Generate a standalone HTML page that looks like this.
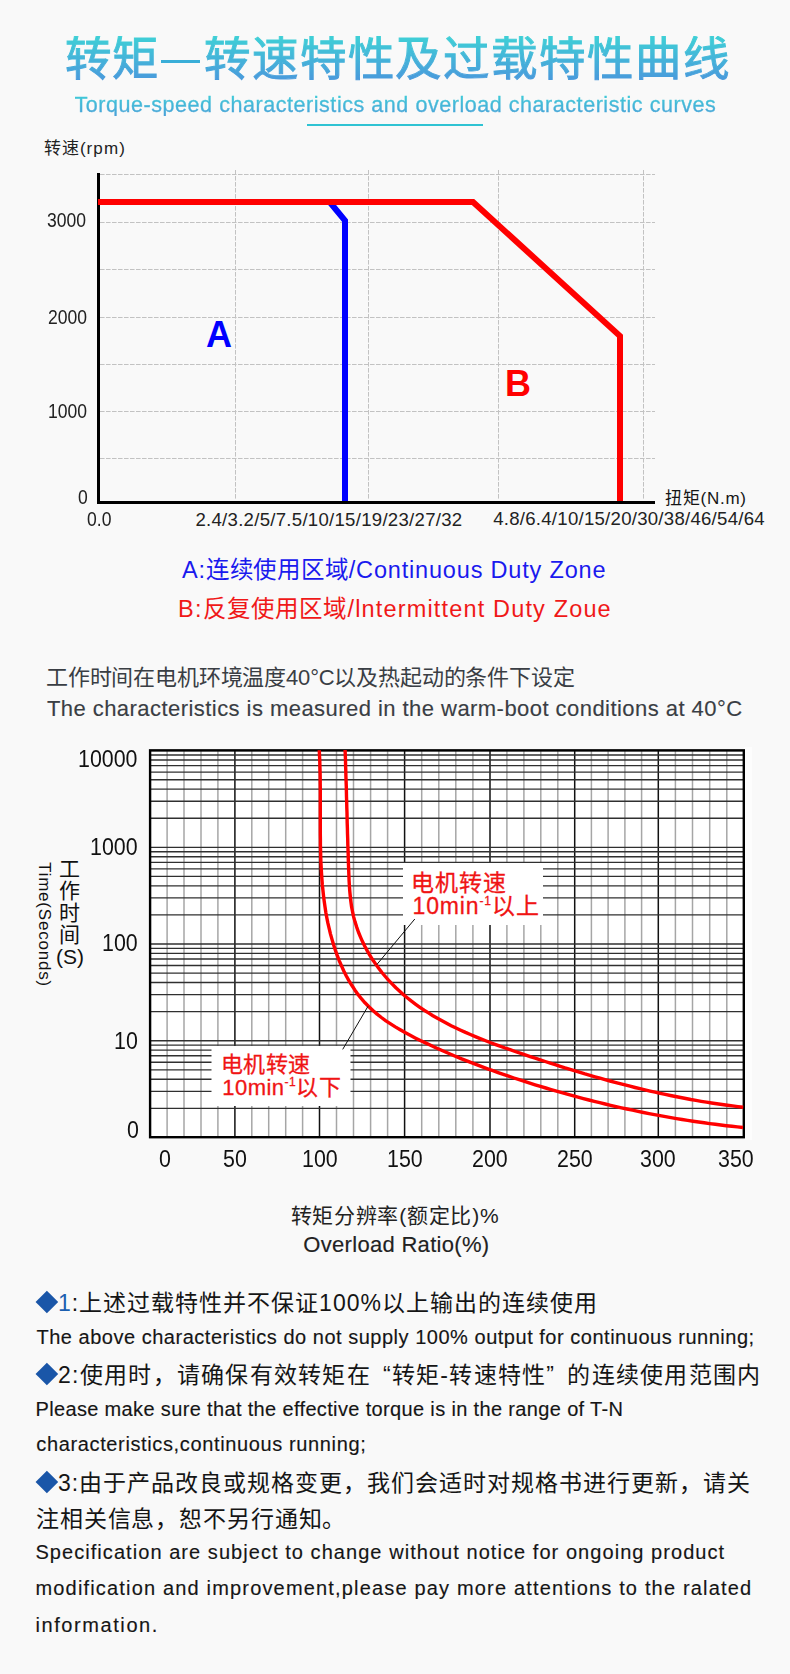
<!DOCTYPE html>
<html lang="zh-CN"><head><meta charset="utf-8"><title>转矩—转速特性及过载特性曲线</title>
<style>
html,body{margin:0;padding:0;}
body{width:790px;height:1674px;background:#f9f9f9;position:relative;overflow:hidden;font-family:"Liberation Sans",sans-serif;color:#222;}
.t{position:absolute;white-space:nowrap;line-height:1;}
svg{position:absolute;left:0;top:0;}
.dm{display:inline-block;width:15.8px;height:15.8px;background:#1a56a8;transform:rotate(45deg);margin:0 3.3px 0 3.3px;vertical-align:1px}
</style></head><body>

<div class="t" id="title" style="left:64.5px;top:36px;font-size:46.5px;letter-spacing:1.86px;background:linear-gradient(180deg,#3fd0d6 0%,#4a96dc 100%);-webkit-background-clip:text;background-clip:text;color:transparent;-webkit-text-stroke:1px transparent">转矩<span style="display:inline-block;width:43.7px">&nbsp;</span>转速特性及过载特性曲线</div>
<div style="position:absolute;left:161px;top:59.5px;width:39px;height:3.7px;background:#3aaed8"></div>
<div style="position:absolute;left:307px;top:124px;width:176px;height:2px;background:#2fc3d3"></div>
<svg width="790" height="560" viewBox="0 0 790 560">
<line x1="100" y1="174.5" x2="655" y2="174.5" stroke="#c2c2c2" stroke-width="1" stroke-dasharray="4.6 1.4"/>
<line x1="100" y1="222.5" x2="655" y2="222.5" stroke="#c2c2c2" stroke-width="1" stroke-dasharray="4.6 1.4"/>
<line x1="100" y1="269.5" x2="655" y2="269.5" stroke="#c2c2c2" stroke-width="1" stroke-dasharray="4.6 1.4"/>
<line x1="100" y1="317.5" x2="655" y2="317.5" stroke="#c2c2c2" stroke-width="1" stroke-dasharray="4.6 1.4"/>
<line x1="100" y1="364.5" x2="655" y2="364.5" stroke="#c2c2c2" stroke-width="1" stroke-dasharray="4.6 1.4"/>
<line x1="100" y1="411.5" x2="655" y2="411.5" stroke="#c2c2c2" stroke-width="1" stroke-dasharray="4.6 1.4"/>
<line x1="100" y1="458.5" x2="655" y2="458.5" stroke="#c2c2c2" stroke-width="1" stroke-dasharray="4.6 1.4"/>
<line x1="235.5" y1="170" x2="235.5" y2="500" stroke="#c2c2c2" stroke-width="1" stroke-dasharray="4.6 1.4"/>
<line x1="368.5" y1="170" x2="368.5" y2="500" stroke="#c2c2c2" stroke-width="1" stroke-dasharray="4.6 1.4"/>
<line x1="498.5" y1="170" x2="498.5" y2="500" stroke="#c2c2c2" stroke-width="1" stroke-dasharray="4.6 1.4"/>
<line x1="643.5" y1="170" x2="643.5" y2="500" stroke="#c2c2c2" stroke-width="1" stroke-dasharray="4.6 1.4"/>
<line x1="98.5" y1="173" x2="98.5" y2="503.9" stroke="#000" stroke-width="3"/>
<line x1="97" y1="502.4" x2="655" y2="502.4" stroke="#000" stroke-width="3"/>
<polyline points="330.5,203 345,220.5 345,501" fill="none" stroke="#0000ff" stroke-width="6" stroke-linejoin="miter"/>
<polyline points="98,202 473,202 620,336 620,501" fill="none" stroke="#ff0000" stroke-width="6" stroke-linejoin="miter"/>
</svg>
<svg width="790" height="1674" viewBox="0 0 790 1674">
<rect x="150" y="749" width="594" height="389" fill="#fff"/><rect x="744" y="747" width="8" height="393" fill="#fdfdfd"/>
<line x1="167.1" y1="750" x2="167.1" y2="1137" stroke="#a6a6a6" stroke-width="1.5"/>
<line x1="184.0" y1="750" x2="184.0" y2="1137" stroke="#a6a6a6" stroke-width="1.5"/>
<line x1="201.0" y1="750" x2="201.0" y2="1137" stroke="#a6a6a6" stroke-width="1.5"/>
<line x1="217.9" y1="750" x2="217.9" y2="1137" stroke="#a6a6a6" stroke-width="1.5"/>
<line x1="234.9" y1="750" x2="234.9" y2="1137" stroke="#111" stroke-width="1.5"/>
<line x1="251.8" y1="750" x2="251.8" y2="1137" stroke="#a6a6a6" stroke-width="1.5"/>
<line x1="268.7" y1="750" x2="268.7" y2="1137" stroke="#a6a6a6" stroke-width="1.5"/>
<line x1="285.7" y1="750" x2="285.7" y2="1137" stroke="#a6a6a6" stroke-width="1.5"/>
<line x1="302.6" y1="750" x2="302.6" y2="1137" stroke="#a6a6a6" stroke-width="1.5"/>
<line x1="319.5" y1="750" x2="319.5" y2="1137" stroke="#111" stroke-width="1.5"/>
<line x1="336.5" y1="750" x2="336.5" y2="1137" stroke="#a6a6a6" stroke-width="1.5"/>
<line x1="353.5" y1="750" x2="353.5" y2="1137" stroke="#a6a6a6" stroke-width="1.5"/>
<line x1="370.6" y1="750" x2="370.6" y2="1137" stroke="#a6a6a6" stroke-width="1.5"/>
<line x1="387.6" y1="750" x2="387.6" y2="1137" stroke="#a6a6a6" stroke-width="1.5"/>
<line x1="404.6" y1="750" x2="404.6" y2="1137" stroke="#111" stroke-width="1.5"/>
<line x1="421.7" y1="750" x2="421.7" y2="1137" stroke="#a6a6a6" stroke-width="1.5"/>
<line x1="438.8" y1="750" x2="438.8" y2="1137" stroke="#a6a6a6" stroke-width="1.5"/>
<line x1="455.8" y1="750" x2="455.8" y2="1137" stroke="#a6a6a6" stroke-width="1.5"/>
<line x1="472.9" y1="750" x2="472.9" y2="1137" stroke="#a6a6a6" stroke-width="1.5"/>
<line x1="490.0" y1="750" x2="490.0" y2="1137" stroke="#111" stroke-width="1.5"/>
<line x1="506.9" y1="750" x2="506.9" y2="1137" stroke="#a6a6a6" stroke-width="1.5"/>
<line x1="523.9" y1="750" x2="523.9" y2="1137" stroke="#a6a6a6" stroke-width="1.5"/>
<line x1="540.8" y1="750" x2="540.8" y2="1137" stroke="#a6a6a6" stroke-width="1.5"/>
<line x1="557.8" y1="750" x2="557.8" y2="1137" stroke="#a6a6a6" stroke-width="1.5"/>
<line x1="574.7" y1="750" x2="574.7" y2="1137" stroke="#111" stroke-width="1.5"/>
<line x1="591.4" y1="750" x2="591.4" y2="1137" stroke="#a6a6a6" stroke-width="1.5"/>
<line x1="608.1" y1="750" x2="608.1" y2="1137" stroke="#a6a6a6" stroke-width="1.5"/>
<line x1="624.9" y1="750" x2="624.9" y2="1137" stroke="#a6a6a6" stroke-width="1.5"/>
<line x1="641.6" y1="750" x2="641.6" y2="1137" stroke="#a6a6a6" stroke-width="1.5"/>
<line x1="658.3" y1="750" x2="658.3" y2="1137" stroke="#111" stroke-width="1.5"/>
<line x1="675.4" y1="750" x2="675.4" y2="1137" stroke="#a6a6a6" stroke-width="1.5"/>
<line x1="692.5" y1="750" x2="692.5" y2="1137" stroke="#a6a6a6" stroke-width="1.5"/>
<line x1="709.7" y1="750" x2="709.7" y2="1137" stroke="#a6a6a6" stroke-width="1.5"/>
<line x1="726.8" y1="750" x2="726.8" y2="1137" stroke="#a6a6a6" stroke-width="1.5"/>
<line x1="150" y1="1108.3" x2="744" y2="1108.3" stroke="#303030" stroke-width="1.35"/>
<line x1="150" y1="1091.3" x2="744" y2="1091.3" stroke="#303030" stroke-width="1.35"/>
<line x1="150" y1="1079.2" x2="744" y2="1079.2" stroke="#303030" stroke-width="1.35"/>
<line x1="150" y1="1069.8" x2="744" y2="1069.8" stroke="#303030" stroke-width="1.35"/>
<line x1="150" y1="1062.2" x2="744" y2="1062.2" stroke="#303030" stroke-width="1.35"/>
<line x1="150" y1="1055.7" x2="744" y2="1055.7" stroke="#303030" stroke-width="1.35"/>
<line x1="150" y1="1050.1" x2="744" y2="1050.1" stroke="#303030" stroke-width="1.35"/>
<line x1="150" y1="1045.1" x2="744" y2="1045.1" stroke="#303030" stroke-width="1.35"/>
<line x1="150" y1="1040.7" x2="744" y2="1040.7" stroke="#303030" stroke-width="1.35"/>
<line x1="150" y1="1011.6" x2="744" y2="1011.6" stroke="#303030" stroke-width="1.35"/>
<line x1="150" y1="994.6" x2="744" y2="994.6" stroke="#303030" stroke-width="1.35"/>
<line x1="150" y1="982.5" x2="744" y2="982.5" stroke="#303030" stroke-width="1.35"/>
<line x1="150" y1="973.1" x2="744" y2="973.1" stroke="#303030" stroke-width="1.35"/>
<line x1="150" y1="965.5" x2="744" y2="965.5" stroke="#303030" stroke-width="1.35"/>
<line x1="150" y1="959.0" x2="744" y2="959.0" stroke="#303030" stroke-width="1.35"/>
<line x1="150" y1="953.4" x2="744" y2="953.4" stroke="#303030" stroke-width="1.35"/>
<line x1="150" y1="948.4" x2="744" y2="948.4" stroke="#303030" stroke-width="1.35"/>
<line x1="150" y1="944.0" x2="744" y2="944.0" stroke="#303030" stroke-width="1.35"/>
<line x1="150" y1="914.9" x2="744" y2="914.9" stroke="#303030" stroke-width="1.35"/>
<line x1="150" y1="897.9" x2="744" y2="897.9" stroke="#303030" stroke-width="1.35"/>
<line x1="150" y1="885.8" x2="744" y2="885.8" stroke="#303030" stroke-width="1.35"/>
<line x1="150" y1="876.4" x2="744" y2="876.4" stroke="#303030" stroke-width="1.35"/>
<line x1="150" y1="868.8" x2="744" y2="868.8" stroke="#303030" stroke-width="1.35"/>
<line x1="150" y1="862.3" x2="744" y2="862.3" stroke="#303030" stroke-width="1.35"/>
<line x1="150" y1="856.7" x2="744" y2="856.7" stroke="#303030" stroke-width="1.35"/>
<line x1="150" y1="851.7" x2="744" y2="851.7" stroke="#303030" stroke-width="1.35"/>
<line x1="150" y1="847.3" x2="744" y2="847.3" stroke="#303030" stroke-width="1.35"/>
<line x1="150" y1="818.2" x2="744" y2="818.2" stroke="#303030" stroke-width="1.35"/>
<line x1="150" y1="801.2" x2="744" y2="801.2" stroke="#303030" stroke-width="1.35"/>
<line x1="150" y1="789.1" x2="744" y2="789.1" stroke="#303030" stroke-width="1.35"/>
<line x1="150" y1="779.7" x2="744" y2="779.7" stroke="#303030" stroke-width="1.35"/>
<line x1="150" y1="772.1" x2="744" y2="772.1" stroke="#303030" stroke-width="1.35"/>
<line x1="150" y1="765.6" x2="744" y2="765.6" stroke="#303030" stroke-width="1.35"/>
<line x1="150" y1="760.0" x2="744" y2="760.0" stroke="#303030" stroke-width="1.35"/>
<line x1="150" y1="755.0" x2="744" y2="755.0" stroke="#303030" stroke-width="1.35"/>
<line x1="150" y1="750.6" x2="744" y2="750.6" stroke="#303030" stroke-width="1.35"/>
<rect x="403" y="863" width="140" height="62" fill="#fff"/>
<rect x="211.5" y="1046" width="139" height="60" fill="#fff"/>
<rect x="150.1" y="750.35" width="593.7" height="386.85" fill="none" stroke="#000" stroke-width="2.4"/>
<path d="M319.3,750.2 L319.5,755.7 L319.8,761.1 L319.9,766.6 L320.1,772.1 L320.2,777.6 L320.2,783.2 L320.3,788.7 L320.3,794.3 L320.3,799.9 L320.3,805.5 L320.3,811.1 L320.3,816.8 L320.3,822.4 L320.3,828.1 L320.3,833.7 L320.4,839.4 L320.4,845.0 L320.6,850.7 L320.7,856.3 L320.9,862.0 L321.2,867.6 L321.5,873.2 L321.9,878.8 L322.3,884.4 L322.9,890.0 L323.5,895.6 L324.2,901.2 L325.0,906.7 L325.8,912.2 L326.8,917.7 L327.9,923.2 L329.2,928.6 L330.5,934.1 L332.0,939.4 L333.6,944.8 L335.3,950.1 L337.2,955.4 L339.2,960.6 L341.4,965.7 L343.7,970.8 L346.2,975.7 L348.9,980.6 L351.8,985.3 L354.8,989.9 L358.0,994.4 L361.4,998.7 L365.0,1002.8 L368.9,1006.7 L372.9,1010.5 L377.1,1014.1 L381.4,1017.5 L385.9,1020.8 L390.6,1023.9 L395.3,1026.9 L400.2,1029.8 L405.1,1032.6 L410.2,1035.3 L415.2,1037.9 L420.3,1040.5 L425.5,1042.9 L430.6,1045.3 L435.8,1047.7 L440.9,1050.0 L446.1,1052.3 L451.3,1054.5 L456.4,1056.7 L461.6,1058.8 L466.8,1060.9 L472.0,1062.9 L477.2,1064.9 L482.4,1066.9 L487.6,1068.8 L492.9,1070.7 L498.1,1072.6 L503.3,1074.4 L508.6,1076.2 L513.9,1078.0 L519.2,1079.7 L524.5,1081.4 L529.8,1083.1 L535.1,1084.8 L540.4,1086.4 L545.8,1088.0 L551.1,1089.6 L556.5,1091.2 L561.8,1092.7 L567.2,1094.2 L572.6,1095.7 L578.0,1097.1 L583.4,1098.6 L588.9,1100.0 L594.3,1101.4 L599.7,1102.7 L605.2,1104.0 L610.6,1105.3 L616.1,1106.6 L621.5,1107.8 L627.0,1109.0 L632.5,1110.2 L638.0,1111.4 L643.5,1112.5 L649.0,1113.6 L654.5,1114.6 L660.0,1115.7 L665.5,1116.7 L671.0,1117.6 L676.5,1118.6 L682.1,1119.5 L687.6,1120.4 L693.1,1121.2 L698.6,1122.0 L704.2,1122.8 L709.7,1123.6 L715.3,1124.3 L720.8,1125.0 L726.3,1125.7 L731.9,1126.3 L737.4,1126.9 L743.0,1127.5" fill="none" stroke="#f00" stroke-width="3.4" stroke-linejoin="round"/>
<path d="M345.1,750.0 L345.3,755.3 L345.5,760.5 L345.6,765.7 L345.8,770.9 L345.9,776.1 L346.1,781.4 L346.3,786.6 L346.4,791.8 L346.5,797.0 L346.7,802.2 L346.8,807.4 L347.0,812.6 L347.1,817.9 L347.2,823.1 L347.4,828.3 L347.5,833.5 L347.7,838.7 L347.8,844.0 L348.0,849.2 L348.2,854.5 L348.3,859.7 L348.5,865.0 L348.7,870.2 L348.9,875.5 L349.1,880.8 L349.4,886.0 L349.8,891.3 L350.3,896.5 L350.9,901.7 L351.6,906.9 L352.6,912.0 L353.7,917.1 L355.1,922.1 L356.7,927.1 L358.4,932.0 L360.4,936.8 L362.5,941.6 L364.8,946.3 L367.3,950.9 L369.9,955.4 L372.7,959.8 L375.7,964.1 L378.7,968.3 L381.9,972.5 L385.3,976.5 L388.7,980.4 L392.3,984.1 L395.9,987.8 L399.7,991.3 L403.5,994.7 L407.5,998.0 L411.5,1001.2 L415.7,1004.3 L419.9,1007.3 L424.1,1010.2 L428.5,1012.9 L432.9,1015.7 L437.4,1018.3 L442.0,1020.8 L446.6,1023.3 L451.2,1025.7 L456.0,1028.0 L460.7,1030.2 L465.5,1032.4 L470.4,1034.5 L475.3,1036.6 L480.2,1038.6 L485.1,1040.5 L490.1,1042.5 L495.0,1044.3 L500.0,1046.2 L505.1,1048.0 L510.1,1049.7 L515.1,1051.5 L520.1,1053.2 L525.2,1054.9 L530.2,1056.6 L535.2,1058.2 L540.2,1059.9 L545.2,1061.5 L550.2,1063.1 L555.2,1064.7 L560.2,1066.3 L565.1,1067.9 L570.1,1069.4 L575.1,1070.9 L580.1,1072.4 L585.0,1073.9 L590.0,1075.3 L595.0,1076.8 L600.0,1078.2 L605.0,1079.6 L610.0,1081.0 L615.0,1082.3 L620.0,1083.6 L625.0,1084.9 L630.0,1086.2 L635.0,1087.5 L640.0,1088.7 L645.0,1089.9 L650.1,1091.1 L655.1,1092.2 L660.2,1093.3 L665.3,1094.4 L670.4,1095.5 L675.5,1096.5 L680.6,1097.5 L685.7,1098.5 L690.8,1099.5 L696.0,1100.4 L701.2,1101.3 L706.4,1102.1 L711.6,1103.0 L716.8,1103.8 L722.1,1104.5 L727.3,1105.2 L732.6,1105.9 L737.9,1106.6 L743.2,1107.2" fill="none" stroke="#f00" stroke-width="3.4" stroke-linejoin="round"/>
<line x1="414.8" y1="919" x2="376.8" y2="964.6" stroke="#111" stroke-width="1"/>
<line x1="342.7" y1="1049.4" x2="368" y2="1006.3" stroke="#111" stroke-width="1"/>
</svg>
<div class="t" style="left:56.00px;top:858.00px;font-size:21.00px;color:#111;letter-spacing:0.000px;line-height:22px;text-align:center;width:26px;white-space:normal">工<br>作<br>时<br>间<br>(S)</div>
<div class="t" style="left:53.00px;top:862.00px;font-size:17.00px;color:#111;letter-spacing:0.800px;transform-origin:0 0;transform:rotate(90deg)">Time(Seconds)</div>
<div class="t" style="left:74.54px;top:94.80px;font-size:21.50px;color:;letter-spacing:0.551px;background:linear-gradient(180deg,#3fcbd8 0%,#4aa0d8 100%);-webkit-background-clip:text;background-clip:text;color:transparent;-webkit-text-stroke:0.35px transparent;">Torque-speed characteristics and overload characteristic curves</div>
<div class="t" style="left:43.72px;top:139.82px;font-size:17.00px;color:#222;letter-spacing:1.080px;">转速(rpm)</div>
<div class="t" style="left:47.36px;top:211.02px;font-size:19.30px;color:#222;letter-spacing:0.000px;transform:scaleX(0.9100);transform-origin:0 0;">3000</div>
<div class="t" style="left:47.81px;top:308.47px;font-size:19.30px;color:#222;letter-spacing:0.000px;transform:scaleX(0.9100);transform-origin:0 0;">2000</div>
<div class="t" style="left:47.81px;top:402.45px;font-size:19.30px;color:#222;letter-spacing:0.000px;transform:scaleX(0.9100);transform-origin:0 0;">1000</div>
<div class="t" style="left:77.53px;top:488.29px;font-size:19.30px;color:#222;letter-spacing:0.000px;transform:scaleX(0.9100);transform-origin:0 0;">0</div>
<div class="t" style="left:87.00px;top:510.35px;font-size:19.30px;color:#222;letter-spacing:0.000px;transform:scaleX(0.9100);transform-origin:0 0;">0.0</div>
<div class="t" style="left:195.45px;top:510.75px;font-size:18.60px;color:#222;letter-spacing:0.275px;">2.4/3.2/5/7.5/10/15/19/23/27/32</div>
<div class="t" style="left:493.18px;top:510.20px;font-size:18.60px;color:#222;letter-spacing:0.260px;">4.8/6.4/10/15/20/30/38/46/54/64</div>
<div class="t" style="left:665.00px;top:489.72px;font-size:17.00px;color:#151515;letter-spacing:0.750px;">扭矩(N.m)</div>
<div class="t" style="left:205.90px;top:317.00px;font-size:36.00px;color:#0000ff;letter-spacing:0.000px;font-weight:bold">A</div>
<div class="t" style="left:505.00px;top:366.00px;font-size:36.00px;color:#ff0000;letter-spacing:0.000px;font-weight:bold">B</div>
<div class="t" style="left:182.00px;top:558.90px;font-size:23.50px;color:#1a1aee;letter-spacing:0.821px;">A:连续使用区域/Continuous Duty Zone</div>
<div class="t" style="left:178.10px;top:598.04px;font-size:23.50px;color:#f01818;letter-spacing:1.156px;">B:反复使用区域/lntermittent Duty Zoue</div>
<div class="t" style="left:46.00px;top:667.20px;font-size:22.00px;color:#3a3e44;letter-spacing:-0.180px;">工作时间在电机环境温度40°C以及热起动的条件下设定</div>
<div class="t" style="left:46.90px;top:697.90px;font-size:22.00px;color:#3a3e44;letter-spacing:0.450px;-webkit-text-stroke:0.15px currentColor;">The characteristics is measured in the warm-boot conditions at 40°C</div>
<div class="t" style="left:410.92px;top:871.69px;font-size:23.00px;color:#f01414;letter-spacing:0.900px;-webkit-text-stroke:0.3px currentColor;">电机转速</div>
<div class="t" style="left:412.55px;top:895.01px;font-size:23.00px;color:#f01414;letter-spacing:0.850px;-webkit-text-stroke:0.3px currentColor;">10min<span style="font-size:12px;vertical-align:9px">-1</span>以上</div>
<div class="t" style="left:220.56px;top:1053.62px;font-size:22.00px;color:#f01414;letter-spacing:0.540px;-webkit-text-stroke:0.3px currentColor;">电机转速</div>
<div class="t" style="left:222.28px;top:1076.34px;font-size:22.00px;color:#f01414;letter-spacing:0.480px;-webkit-text-stroke:0.3px currentColor;">10min<span style="font-size:12px;vertical-align:9px">-1</span>以下</div>
<div class="t" style="left:77.55px;top:747.57px;font-size:23.00px;color:#111;letter-spacing:0.000px;transform:scaleX(0.9300);transform-origin:0 0;">10000</div>
<div class="t" style="left:89.83px;top:836.33px;font-size:23.00px;color:#111;letter-spacing:0.000px;transform:scaleX(0.9300);transform-origin:0 0;">1000</div>
<div class="t" style="left:101.73px;top:932.20px;font-size:23.00px;color:#111;letter-spacing:0.000px;transform:scaleX(0.9300);transform-origin:0 0;">100</div>
<div class="t" style="left:114.01px;top:1030.38px;font-size:23.00px;color:#111;letter-spacing:0.000px;transform:scaleX(0.9300);transform-origin:0 0;">10</div>
<div class="t" style="left:126.91px;top:1118.88px;font-size:23.00px;color:#111;letter-spacing:0.000px;transform:scaleX(0.9300);transform-origin:0 0;">0</div>
<div class="t" style="left:158.54px;top:1148.38px;font-size:23.00px;color:#111;letter-spacing:0.000px;transform:scaleX(0.9300);transform-origin:0 0;">0</div>
<div class="t" style="left:222.55px;top:1148.38px;font-size:23.00px;color:#111;letter-spacing:0.000px;transform:scaleX(0.9300);transform-origin:0 0;">50</div>
<div class="t" style="left:302.09px;top:1147.98px;font-size:23.00px;color:#111;letter-spacing:0.000px;transform:scaleX(0.9300);transform-origin:0 0;">100</div>
<div class="t" style="left:387.28px;top:1147.98px;font-size:23.00px;color:#111;letter-spacing:0.000px;transform:scaleX(0.9300);transform-origin:0 0;">150</div>
<div class="t" style="left:472.01px;top:1147.98px;font-size:23.00px;color:#111;letter-spacing:0.000px;transform:scaleX(0.9300);transform-origin:0 0;">200</div>
<div class="t" style="left:557.45px;top:1147.98px;font-size:23.00px;color:#111;letter-spacing:0.000px;transform:scaleX(0.9300);transform-origin:0 0;">250</div>
<div class="t" style="left:639.92px;top:1148.21px;font-size:23.00px;color:#111;letter-spacing:0.000px;transform:scaleX(0.9300);transform-origin:0 0;">300</div>
<div class="t" style="left:717.65px;top:1148.34px;font-size:23.00px;color:#111;letter-spacing:0.000px;transform:scaleX(0.9300);transform-origin:0 0;">350</div>
<div class="t" style="left:290.54px;top:1205.10px;font-size:21.00px;color:#222;letter-spacing:0.742px;">转矩分辨率(额定比)%</div>
<div class="t" style="left:303.36px;top:1234.29px;font-size:22.00px;color:#222;letter-spacing:0.297px;-webkit-text-stroke:0.15px currentColor;">Overload Ratio(%)</div>
<div class="t" style="left:35.64px;top:1291.80px;font-size:23.00px;color:#151515;letter-spacing:0.992px;"><span class="dm"></span><span style="color:#1c5fb0">1</span>:上述过载特性并不保证100%以上输出的连续使用</div>
<div class="t" style="left:36.46px;top:1326.64px;font-size:20.00px;color:#151515;letter-spacing:0.519px;-webkit-text-stroke:0.15px currentColor;">The above characteristics do not supply 100% output for continuous running;</div>
<div class="t" style="left:35.64px;top:1363.57px;font-size:23.00px;color:#151515;letter-spacing:1.264px;"><span class="dm"></span>2:使用时，请确保有效转矩在<span style="margin-left:12px">“</span>转矩-转速特性”<span style="margin-left:12px">的</span>连续使用范围内</div>
<div class="t" style="left:35.46px;top:1399.18px;font-size:20.00px;color:#151515;letter-spacing:0.350px;-webkit-text-stroke:0.15px currentColor;">Please make sure that the effective torque is in the range of T-N</div>
<div class="t" style="left:36.36px;top:1433.74px;font-size:20.00px;color:#151515;letter-spacing:0.630px;-webkit-text-stroke:0.15px currentColor;">characteristics,continuous running;</div>
<div class="t" style="left:35.64px;top:1471.90px;font-size:23.00px;color:#151515;letter-spacing:1.000px;"><span class="dm"></span>3:由于产品改良或规格变更，我们会适时对规格书进行更新，请关</div>
<div class="t" style="left:36.00px;top:1507.55px;font-size:23.00px;color:#151515;letter-spacing:0.865px;">注相关信息，恕不另行通知。</div>
<div class="t" style="left:35.46px;top:1542.46px;font-size:20.00px;color:#151515;letter-spacing:1.054px;-webkit-text-stroke:0.15px currentColor;">Specification are subject to change without notice for ongoing product</div>
<div class="t" style="left:35.46px;top:1578.46px;font-size:20.00px;color:#151515;letter-spacing:1.172px;-webkit-text-stroke:0.15px currentColor;">modification and improvement,please pay more attentions to the ralated</div>
<div class="t" style="left:35.46px;top:1614.55px;font-size:20.00px;color:#151515;letter-spacing:1.582px;-webkit-text-stroke:0.15px currentColor;">information.</div>
</body></html>
